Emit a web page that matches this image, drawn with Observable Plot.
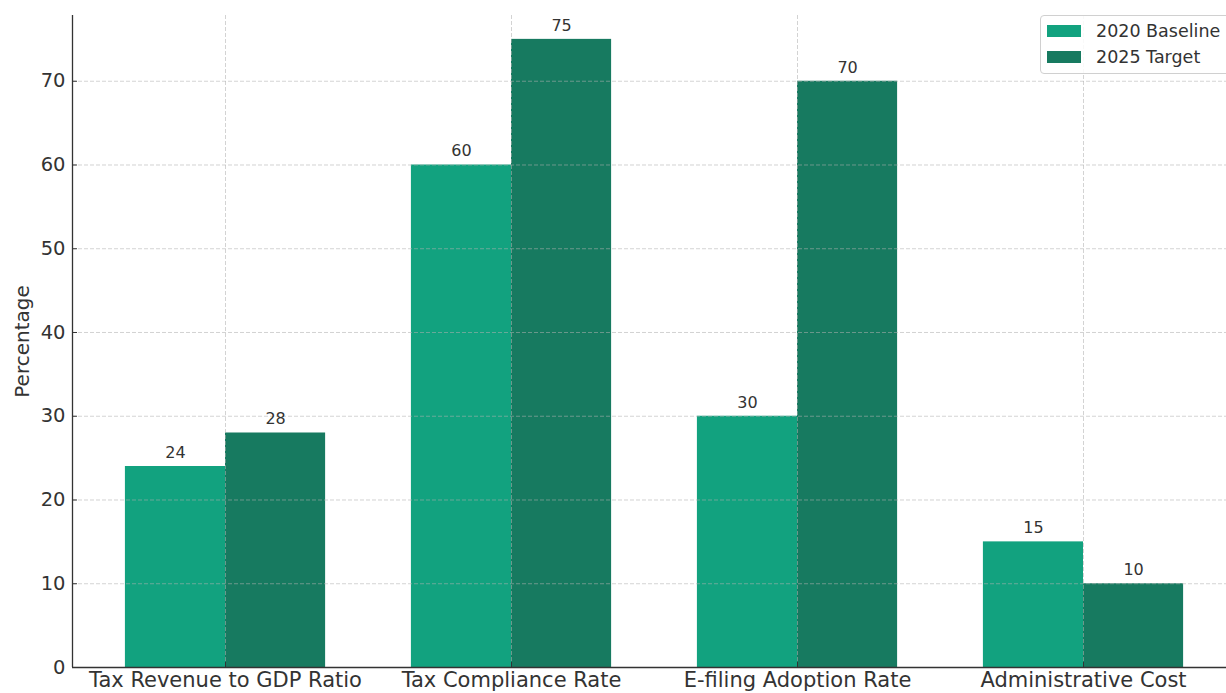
<!DOCTYPE html>
<html><head><meta charset="utf-8">
<script src="https://cdn.jsdelivr.net/npm/d3@7"></script>
<script src="https://cdn.jsdelivr.net/npm/@observablehq/plot@0.6"></script>
<style>
html,body{margin:0;padding:0;background:#fff;overflow:hidden;}
#wrap{position:relative;width:1226px;height:693px;font-family:"DejaVu Sans",sans-serif;}
#wrap svg{display:block;}
.legend{position:absolute;left:1040px;top:15px;width:200px;height:59px;border:1px solid #d0d0d0;border-radius:4px;background:rgba(255,255,255,0.85);box-sizing:border-box;}
.item{position:absolute;left:6px;height:20px;display:flex;align-items:center;font-size:17.5px;color:#333;}
.sw{width:34px;height:12px;margin-right:15px;}
</style>
</head><body>
<div id="wrap"></div>
<script>
const categories = ["Tax Revenue to GDP Ratio","Tax Compliance Rate","E-filing Adoption Rate","Administrative Cost"];
const series = ["2020 Baseline","2025 Target"];
const baseline = [24,60,30,15];
const target = [28,75,70,10];
const yTicks = [0,10,20,30,40,50,60,70];
const colors = ["#12a27f","#177a60"];

const barW = 0.35;
const rows = [];
categories.forEach((c,i)=>{
  [baseline,target].forEach((vals,j)=>{
    const x1 = i - barW + j*barW;
    rows.push({cat:c, i, series:series[j], value:vals[i], x1, x2:x1+barW, xm:x1+barW/2});
  });
});
const xLeft = -0.535;
const idx = d3.range(categories.length);

const chart = Plot.plot({
  width:1226, height:693,
  marginLeft:72, marginRight:0, marginTop:15, marginBottom:26,
  style:{fontFamily:"DejaVu Sans, sans-serif", background:"white", color:"#333"},
  x:{domain:[xLeft,3.5], axis:null},
  y:{domain:[0,77.85], axis:null},
  color:{domain:series, range:colors},
  marks:[
    Plot.rectY(rows,{x1:"x1", x2:"x2", y1:0, y2:"value", fill:"series"}),
    Plot.gridY(yTicks.filter(t=>t>0),{stroke:"#b0b0b0", strokeOpacity:0.7, strokeWidth:0.8, strokeDasharray:"4,2"}),
    Plot.gridX(idx,{stroke:"#b0b0b0", strokeOpacity:0.7, strokeWidth:0.8, strokeDasharray:"4,2"}),
    Plot.text(rows,{x:"xm", y:"value", text:d=>String(d.value), lineAnchor:"bottom", dy:-8.5, fontSize:16, fill:"#333"}),
    Plot.ruleX([xLeft],{stroke:"#333", strokeWidth:1.3}),
    Plot.ruleY([0],{stroke:"#333", strokeWidth:1.3}),
    Plot.axisY({ticks:yTicks, tickSize:0, tickPadding:7, fontSize:19.5, tickFormat:d=>String(d), label:null}),
    Plot.axisY({ticks:yTicks, tickSize:5, dx:5, text:null, stroke:"#333", label:null}),
    Plot.axisX({ticks:idx, tickSize:0, tickPadding:5, fontSize:21, tickFormat:i=>categories[i], label:null}),
    Plot.axisX({ticks:idx, tickSize:5, dy:-5, text:null, stroke:"#333", label:null}),
    Plot.text(["Percentage"],{frameAnchor:"left", textAnchor:"middle", rotate:-90, dx:-50, fontSize:20, fill:"#333"})
  ]
});
const wrap = document.getElementById("wrap");
wrap.appendChild(chart);
const lg = document.createElement("div");
lg.className = "legend";
series.forEach((s,j)=>{
  const it = document.createElement("div");
  it.className = "item";
  it.style.top = (5 + j*26) + "px";
  it.innerHTML = `<span class="sw" style="background:${colors[j]}"></span><span>${s}</span>`;
  lg.appendChild(it);
});
wrap.appendChild(lg);
</script>
</body></html>
